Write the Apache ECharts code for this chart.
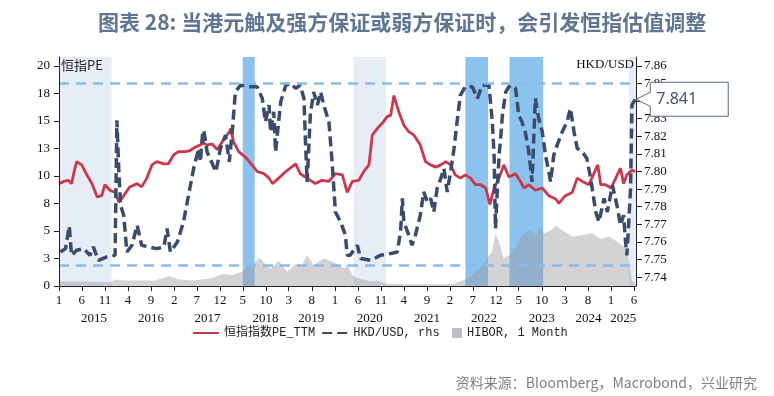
<!DOCTYPE html>
<html>
<head>
<meta charset="utf-8">
<script src="https://cdn.jsdelivr.net/npm/echarts@6/dist/echarts.min.js"></script>
<style>
  html, body { margin: 0; padding: 0; background: #fff; }
  #chart { width: 774px; height: 396px; }
</style>
</head>
<body>
<div id="chart"></div>
<script>
// 恒指PE (left axis)
const peData = [
  ['2015-01-01', 9.3], ['2015-02-01', 9.5], ['2015-03-04', 9.6], ['2015-03-25', 9.3], ['2015-04-15', 10.6],
  ['2015-04-28', 11.3], ['2015-06-01', 11.0], ['2015-07-04', 10.1], ['2015-08-07', 9.3], ['2015-09-10', 8.1],
  ['2015-10-10', 8.2], ['2015-11-01', 9.2], ['2015-12-04', 8.7], ['2016-01-07', 8.5], ['2016-02-01', 7.6],
  ['2016-03-04', 8.2], ['2016-04-13', 9.0], ['2016-06-01', 9.3], ['2016-07-01', 9.0], ['2016-08-04', 9.8],
  ['2016-09-07', 11.0], ['2016-10-10', 11.3], ['2016-11-25', 11.1], ['2016-12-25', 11.1], ['2017-01-28', 11.9],
  ['2017-03-01', 12.2], ['2017-04-16', 12.2], ['2017-05-16', 12.3], ['2017-06-19', 12.6], ['2017-07-22', 12.8],
  ['2017-08-16', 13.0], ['2017-09-07', 12.8], ['2017-10-10', 12.9], ['2017-11-13', 12.4], ['2017-12-16', 13.1],
  ['2018-01-10', 13.6], ['2018-02-01', 14.0], ['2018-02-10', 14.3], ['2018-03-01', 13.1], ['2018-04-04', 12.2],
  ['2018-05-19', 11.7], ['2018-07-01', 11.0], ['2018-08-04', 10.4], ['2018-09-19', 10.2], ['2018-10-22', 9.8],
  ['2018-11-13', 9.3], ['2018-12-25', 9.8], ['2019-02-10', 10.4], ['2019-04-16', 11.1], ['2019-05-16', 10.2],
  ['2019-06-19', 9.9], ['2019-07-22', 9.6], ['2019-08-25', 9.3], ['2019-10-07', 9.6], ['2019-11-22', 9.5],
  ['2020-01-04', 10.2], ['2020-02-19', 10.1], ['2020-03-22', 8.5], ['2020-04-25', 9.5], ['2020-06-07', 9.6],
  ['2020-07-10', 10.4], ['2020-08-13', 11.0], ['2020-09-04', 13.7], ['2020-10-07', 14.3], ['2020-11-10', 14.8],
  ['2020-12-13', 15.4], ['2021-01-04', 15.5], ['2021-01-25', 17.3], ['2021-02-07', 16.7], ['2021-02-27', 15.8],
  ['2021-04-01', 14.6], ['2021-05-04', 14.0], ['2021-06-07', 13.7], ['2021-07-19', 12.8], ['2021-08-22', 11.3],
  ['2021-09-25', 11.0], ['2021-10-28', 10.8], ['2021-12-01', 11.0], ['2022-01-04', 11.3], ['2022-02-04', 11.0],
  ['2022-03-07', 10.1], ['2022-04-10', 9.8], ['2022-05-13', 10.1], ['2022-06-16', 9.8], ['2022-07-19', 9.2],
  ['2022-08-22', 9.2], ['2022-09-25', 8.9], ['2022-10-22', 7.4], ['2022-11-19', 8.9], ['2022-12-22', 9.8],
  ['2023-01-22', 11.0], ['2023-02-25', 9.9], ['2023-04-10', 10.2], ['2023-05-13', 9.5], ['2023-06-04', 8.9],
  ['2023-07-07', 9.2], ['2023-08-19', 8.7], ['2023-10-04', 8.9], ['2023-11-16', 8.2], ['2024-01-01', 7.9],
  ['2024-01-22', 7.5], ['2024-03-04', 8.2], ['2024-04-19', 8.5], ['2024-05-22', 9.8], ['2024-06-25', 9.5],
  ['2024-08-07', 9.2], ['2024-10-05', 11.0], ['2024-10-25', 9.2], ['2024-11-25', 9.2], ['2025-01-01', 8.9],
  ['2025-02-01', 9.8], ['2025-03-04', 10.7], ['2025-03-25', 9.3], ['2025-04-16', 10.1], ['2025-05-19', 10.5],
  ['2025-06-10', 10.4]
]

// HKD/USD (right axis)
const hkdData = [
  ['2015-01-10', 7.7543], ['2015-02-13', 7.7562], ['2015-03-10', 7.7690], ['2015-03-25', 7.7524], ['2015-04-28', 7.7553],
  ['2015-06-13', 7.7562], ['2015-07-25', 7.7524], ['2015-08-16', 7.7572], ['2015-09-19', 7.7496], ['2015-11-13', 7.7515],
  ['2016-01-07', 7.7524], ['2016-01-19', 7.8291], ['2016-02-01', 7.7998], ['2016-02-13', 7.7809], ['2016-03-04', 7.7752],
  ['2016-03-25', 7.7543], ['2016-04-28', 7.7581], ['2016-06-01', 7.7695], ['2016-07-01', 7.7581], ['2016-08-16', 7.7572],
  ['2016-10-10', 7.7562], ['2016-11-25', 7.7572], ['2016-12-16', 7.7676], ['2017-01-07', 7.7543], ['2017-02-22', 7.7600],
  ['2017-04-04', 7.7714], ['2017-05-07', 7.7865], ['2017-06-10', 7.8017], ['2017-07-13', 7.8131], ['2017-07-25', 7.8055],
  ['2017-08-07', 7.8206], ['2017-08-16', 7.8235], ['2017-09-07', 7.8111], ['2017-11-04', 7.7998], ['2017-12-04', 7.8131],
  ['2018-01-07', 7.8206], ['2018-02-01', 7.8055], ['2018-02-22', 7.8244], ['2018-03-13', 7.8452], ['2018-04-16', 7.8490],
  ['2018-06-10', 7.8481], ['2018-08-04', 7.8481], ['2018-09-07', 7.8415], ['2018-09-28', 7.8282], ['2018-10-22', 7.8377],
  ['2018-11-01', 7.8225], ['2018-11-22', 7.8339], ['2018-12-04', 7.8111], ['2019-01-07', 7.8395], ['2019-02-10', 7.8490],
  ['2019-03-13', 7.8500], ['2019-04-16', 7.8472], ['2019-05-16', 7.8490], ['2019-06-10', 7.8415], ['2019-06-19', 7.8187],
  ['2019-07-01', 7.7941], ['2019-07-22', 7.8320], ['2019-08-13', 7.8452], ['2019-09-07', 7.8377], ['2019-09-28', 7.8452],
  ['2019-10-19', 7.8377], ['2019-11-22', 7.8282], ['2019-12-13', 7.8055], ['2020-01-04', 7.7770], ['2020-02-07', 7.7714],
  ['2020-03-10', 7.7640], ['2020-03-22', 7.7524], ['2020-04-10', 7.7524], ['2020-05-28', 7.7581], ['2020-06-19', 7.7506],
  ['2020-08-25', 7.7496], ['2020-10-28', 7.7524], ['2021-01-04', 7.7534], ['2021-02-16', 7.7543], ['2021-03-10', 7.7657],
  ['2021-03-22', 7.7847], ['2021-04-01', 7.7714], ['2021-05-04', 7.7638], ['2021-05-25', 7.7581], ['2021-06-16', 7.7638],
  ['2021-07-19', 7.7752], ['2021-08-10', 7.7884], ['2021-09-04', 7.7827], ['2021-09-25', 7.7847], ['2021-10-16', 7.7770],
  ['2021-11-07', 7.7903], ['2021-12-01', 7.7960], ['2021-12-22', 7.8017], ['2022-01-13', 7.7884], ['2022-02-04', 7.7998],
  ['2022-02-27', 7.8131], ['2022-03-19', 7.8282], ['2022-04-10', 7.8434], ['2022-05-13', 7.8481], ['2022-06-28', 7.8481],
  ['2022-08-01', 7.8415], ['2022-09-01', 7.8490], ['2022-10-16', 7.8490], ['2022-10-25', 7.8490], ['2022-11-07', 7.8282],
  ['2022-11-19', 7.8093], ['2022-11-28', 7.7676], ['2022-12-22', 7.8093], ['2023-01-01', 7.8187], ['2023-01-13', 7.8320],
  ['2023-02-04', 7.8452], ['2023-02-25', 7.8481], ['2023-03-16', 7.8490], ['2023-04-10', 7.8472], ['2023-05-01', 7.8320],
  ['2023-05-22', 7.8282], ['2023-06-13', 7.8225], ['2023-07-07', 7.8111], ['2023-07-28', 7.7941], ['2023-08-19', 7.8415],
  ['2023-09-10', 7.8301], ['2023-10-04', 7.8225], ['2023-10-25', 7.8093], ['2023-11-16', 7.7998], ['2023-11-28', 7.7941],
  ['2023-12-19', 7.8093], ['2024-01-10', 7.8150], ['2024-02-13', 7.8225], ['2024-03-16', 7.8282], ['2024-04-07', 7.8358],
  ['2024-05-01', 7.8225], ['2024-05-22', 7.8131], ['2024-06-25', 7.8111], ['2024-07-25', 7.8074], ['2024-08-19', 7.7960],
  ['2024-09-22', 7.7770], ['2024-10-13', 7.7714], ['2024-11-16', 7.7847], ['2024-12-07', 7.7770], ['2025-01-10', 7.7922],
  ['2025-02-13', 7.7790], ['2025-03-04', 7.7695], ['2025-03-25', 7.7752], ['2025-04-07', 7.7600], ['2025-04-16', 7.7524],
  ['2025-05-10', 7.7903], ['2025-05-19', 7.8377], ['2025-06-10', 7.8410]
]

// HIBOR 1M (left axis)
const hiborData = [
  ['2015-01-01', 0.4], ['2015-06-01', 0.4], ['2015-12-01', 0.35], ['2016-01-15', 0.6], ['2016-03-01', 0.5],
  ['2016-06-01', 0.5], ['2016-10-01', 0.5], ['2017-01-01', 0.9], ['2017-03-01', 0.6], ['2017-06-01', 0.5],
  ['2017-08-01', 0.6], ['2017-10-10', 0.7], ['2017-12-15', 1.1], ['2018-02-20', 1.0], ['2018-04-25', 1.3],
  ['2018-06-10', 1.9], ['2018-07-10', 2.0], ['2018-08-20', 2.6], ['2018-09-28', 2.0], ['2018-11-01', 1.6],
  ['2018-12-25', 2.3], ['2019-02-20', 1.3], ['2019-04-16', 2.0], ['2019-05-28', 1.9], ['2019-07-01', 2.8],
  ['2019-08-13', 1.9], ['2019-10-19', 2.5], ['2019-12-13', 2.2], ['2020-01-28', 1.9], ['2020-03-01', 1.6],
  ['2020-03-22', 2.0], ['2020-04-25', 1.0], ['2020-05-28', 0.7], ['2020-08-25', 0.4], ['2020-10-07', 0.45],
  ['2020-12-13', 0.2], ['2021-06-01', 0.15], ['2021-12-01', 0.15], ['2022-03-01', 0.2], ['2022-04-22', 0.5],
  ['2022-06-04', 0.7], ['2022-07-19', 1.3], ['2022-08-22', 1.7], ['2022-10-04', 2.5], ['2022-11-07', 3.2],
  ['2022-11-28', 4.8], ['2022-12-22', 4.0], ['2023-01-22', 2.5], ['2023-02-25', 2.8], ['2023-04-10', 3.4],
  ['2023-05-22', 4.6], ['2023-07-16', 5.1], ['2023-08-19', 4.5], ['2023-09-22', 5.4], ['2023-10-13', 4.8],
  ['2023-12-07', 5.1], ['2024-01-01', 5.5], ['2024-03-04', 4.9], ['2024-04-19', 4.5], ['2024-06-25', 4.6],
  ['2024-08-28', 4.8], ['2024-10-25', 4.3], ['2024-12-19', 4.5], ['2025-02-22', 3.9], ['2025-04-07', 3.5],
  ['2025-04-28', 2.5], ['2025-05-19', 0.4], ['2025-06-10', 0.3]
]

// shaded periods: weak-side (light) and strong-side (dark) convertibility hits
const weakBands = [['2015-01-01', '2015-12-15'], ['2020-05-04', '2020-12-04'], ['2025-04-28', '2025-06-15']]
const strongBands = [['2018-05-01', '2018-07-19'], ['2022-05-13', '2022-10-10'], ['2023-03-01', '2023-10-10']]

// peg guide lines on the HKD axis
const pegLines = [7.85, 7.7467]

// axis ticks
const monthTicks = ['2015-01-01', '2015-06-01', '2015-11-01', '2016-04-01', '2016-09-01', '2017-02-01', '2017-07-01',
  '2017-12-01', '2018-05-01', '2018-10-01', '2019-03-01', '2019-08-01', '2020-01-01', '2020-06-01', '2020-11-01',
  '2021-04-01', '2021-09-01', '2022-02-01', '2022-07-01', '2022-12-01', '2023-05-01', '2023-10-01', '2024-03-01',
  '2024-08-01', '2025-01-01', '2025-06-01']
const yearLabelAt = ['2015-08-20', '2016-09-01', '2017-09-10', '2018-09-28', '2019-07-28', '2020-08-19',
  '2021-09-01', '2022-09-13', '2023-10-01', '2024-08-04', '2025-03-22']
const peTicks = [0, 2.5, 5, 7.5, 10, 12.5, 15, 17.5, 20]
const hkdTicks = [7.74, 7.75, 7.76, 7.77, 7.78, 7.79, 7.80, 7.81, 7.82, 7.83, 7.84, 7.85, 7.86]

const xMin = '2015-01-01'
const xMax = '2025-06-15'

const ts = s => echarts.time.parse(s).getTime()
const toPoints = arr => arr.map(d => [ts(d[0]), d[1]])
const serif = 'Liberation Serif'
const mono = '"Liberation Mono", "Noto Sans CJK SC"'

const chart = echarts.init(document.getElementById('chart'))

const bandArea = [
  ...weakBands.map(b => [{ xAxis: ts(b[0]), itemStyle: { color: '#e6edf6' } }, { xAxis: ts(b[1]) }]),
  ...strongBands.map(b => [{ xAxis: ts(b[0]), itemStyle: { color: '#8cc3ee' } }, { xAxis: ts(b[1]) }])
]

const option = {
  animation: false,
  title: [{
    text: '图表 28: 当港元触及强方保证或弱方保证时，会引发恒指估值调整',
    left: 93,
    top: 7,
    textStyle: { fontFamily: 'Noto Sans CJK SC', fontSize: 21, fontWeight: 'bold', color: '#5f7593' }
  }, {
    text: '资料来源：Bloomberg，Macrobond，兴业研究',
    right: 12,
    top: 371,
    textStyle: { fontFamily: 'Noto Sans CJK SC', fontSize: 14, fontWeight: 'normal', color: '#7f7f7f' }
  }],
  legend: [{
    left: 192,
    top: 327,
    padding: 0,
    itemWidth: 26,
    itemHeight: 10,
    itemGap: 6,
    itemStyle: { opacity: 0 },
    data: ['恒指指数PE_TTM', 'HKD/USD, rhs'],
    textStyle: { fontFamily: mono, fontSize: 12, color: '#222' }
  }, {
    left: 452,
    top: 327,
    padding: 0,
    itemWidth: 10,
    itemHeight: 10,
    data: [{ name: 'HIBOR, 1 Month', icon: 'rect' }],
    textStyle: { fontFamily: mono, fontSize: 12, color: '#222' }
  }],
  grid: { left: 59, right: 138, top: 57, bottom: 110 },
  xAxis: [{
    type: 'value',
    z: 10,
    min: ts(xMin),
    max: ts(xMax),
    axisLine: { lineStyle: { color: '#222', width: 1 } },
    axisTick: { show: true, length: 5, customValues: monthTicks.map(ts), lineStyle: { color: '#222' } },
    axisLabel: {
      customValues: monthTicks.map(ts),
      formatter: v => String(new Date(v).getMonth() + 1),
      fontFamily: serif, fontSize: 13, color: '#111', margin: 8
    },
    splitLine: { show: false }
  }, {
    type: 'value',
    z: 10,
    min: ts(xMin),
    max: ts(xMax),
    position: 'bottom',
    offset: 18,
    axisLine: { show: false },
    axisTick: { show: false },
    axisLabel: {
      customValues: yearLabelAt.map(ts),
      formatter: v => String(new Date(v).getFullYear()),
      fontFamily: serif, fontSize: 13, color: '#111', margin: 8
    },
    splitLine: { show: false }
  }],
  yAxis: [{
    type: 'value',
    z: 10,
    min: 0,
    max: 20.8,
    position: 'left',
    name: '恒指PE',
    nameLocation: 'end',
    nameGap: -8,
    nameTextStyle: { align: 'left', verticalAlign: 'middle', fontFamily: 'Noto Sans CJK SC', fontSize: 13, color: '#222', padding: [0, 0, 0, 2] },
    axisLine: { show: true, lineStyle: { color: '#222' } },
    axisTick: { show: true, length: 5, customValues: peTicks, lineStyle: { color: '#222' } },
    axisLabel: { customValues: peTicks, formatter: v => String(Math.round(v)), fontFamily: serif, fontSize: 13, color: '#111', margin: 9 },
    splitLine: { show: false }
  }, {
    type: 'value',
    z: 10,
    min: 7.735,
    max: 7.865,
    position: 'right',
    name: 'HKD/USD',
    nameLocation: 'end',
    nameGap: -8,
    nameTextStyle: { align: 'right', verticalAlign: 'middle', fontFamily: serif, fontSize: 13, color: '#111', padding: [0, 2, 0, 0] },
    axisLine: { show: true, lineStyle: { color: '#222' } },
    axisTick: { show: true, length: 6, customValues: hkdTicks, lineStyle: { color: '#222' } },
    axisLabel: { customValues: hkdTicks, formatter: v => v.toFixed(2), fontFamily: serif, fontSize: 13, color: '#111', margin: 8 },
    splitLine: { show: false }
  }],
  series: [{
    name: 'bands',
    type: 'line',
    data: [],
    z: 1,
    markArea: { silent: true, data: bandArea }
  }, {
    name: 'HIBOR, 1 Month',
    type: 'line',
    yAxisIndex: 0,
    data: toPoints(hiborData),
    symbol: 'none',
    z: 2,
    color: '#bfbfc3',
    lineStyle: { width: 0 },
    areaStyle: { color: 'rgba(150,150,155,0.6)' }
  }, {
    name: '恒指指数PE_TTM',
    type: 'line',
    yAxisIndex: 0,
    data: toPoints(peData),
    symbol: 'none',
    z: 3,
    color: '#cd374b',
    lineStyle: { width: 2.8 }
  }, {
    name: 'HKD/USD, rhs',
    type: 'line',
    yAxisIndex: 1,
    data: toPoints(hkdData),
    symbol: 'none',
    z: 4,
    color: '#3a4c6c',
    lineStyle: { width: 3.5, type: [10, 5] },
    markLine: {
      silent: true,
      precision: 4,
      symbol: ['none', 'none'],
      label: { show: false },
      lineStyle: { color: '#86bdea', width: 2.5, type: [10, 7] },
      data: pegLines.map(v => ({ yAxis: v }))
    }
  }]
}

chart.setOption(option)

// callout for the latest HKD/USD value
const last = hkdData[hkdData.length - 1]
const tip = chart.convertToPixel({ seriesIndex: 3 }, [ts(last[0]), last[1]])
const tx = tip[0], ty = tip[1]
chart.setOption({
  graphic: [{
    type: 'polygon',
    z: 100,
    shape: {
      points: [[tx + 1, ty], [tx + 15, ty - 7], [tx + 15, ty - 17], [tx + 93, ty - 17],
        [tx + 93, ty + 17], [tx + 15, ty + 17], [tx + 15, ty + 7]]
    },
    style: { fill: '#fff', stroke: '#56667f', lineWidth: 1 }
  }, {
    type: 'text',
    z: 101,
    x: tx + 21,
    y: ty,
    style: { text: last[1].toFixed(3), fontFamily: 'Noto Sans', fontSize: 16, fill: '#44546a', verticalAlign: 'middle' }
  }]
})

window.addEventListener('resize', () => chart.resize())
</script>
</body>
</html>
